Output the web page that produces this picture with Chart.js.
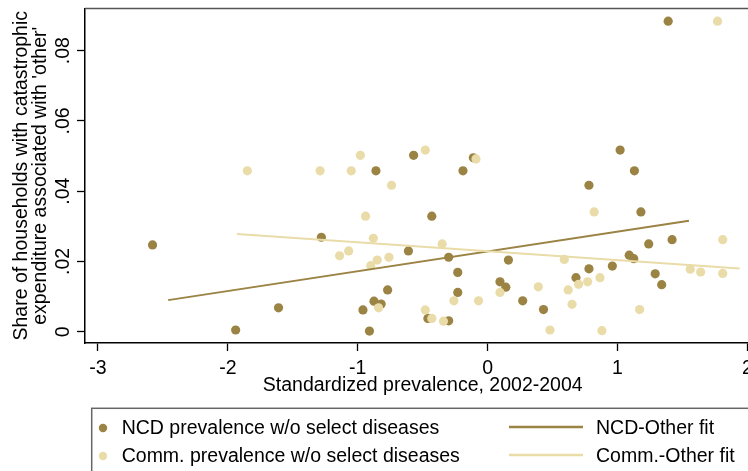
<!DOCTYPE html>
<html>
<head>
<meta charset="utf-8">
<script src="https://cdn.jsdelivr.net/npm/chart.js@4/dist/chart.umd.min.js"></script>
<style>
  html, body { margin: 0; padding: 0; overflow: hidden; background: #fff; }
  canvas { display: block; }
</style>
</head>
<body>
<canvas id="c" width="770" height="471"></canvas>
<script>
// NCD prevalence (standardized) vs. share with catastrophic 'other' expenditure
const ncdX = [-2.58, -1.94, -1.61, -1.28, -0.96, -0.91, -0.875, -0.82, -0.86, -0.77,
              -0.61, -0.57, -0.46, -0.43, -0.30, -0.30, -0.23, -0.23, -0.19, -0.11,
               0.095, 0.14, 0.16, 0.27, 0.43, 0.68, 0.78, 0.78, 0.96, 1.02,
               1.09, 1.125, 1.13, 1.18, 1.24, 1.29, 1.34, 1.39, 1.42];
const ncdY = [0.0247, 0.0005, 0.0068, 0.0269, 0.0062, 0.0002, 0.0087, 0.0079, 0.0458, 0.0119,
              0.0230, 0.0502, 0.0038, 0.0329, 0.0212, 0.0031, 0.0169, 0.0112, 0.0458, 0.0495,
              0.0142, 0.0127, 0.0204, 0.0088, 0.0063, 0.0154, 0.0417, 0.0179, 0.0187, 0.0517,
              0.0218, 0.0208, 0.0458, 0.0341, 0.0250, 0.0165, 0.0134, 0.0884, 0.0262];

// Communicable prevalence (standardized) vs. the same outcome
const commX = [-1.85, -1.29, -1.14, -1.07, -1.05, -0.98, -0.94, -0.90, -0.88, -0.85,
               -0.84, -0.76, -0.74, -0.48, -0.48, -0.43, -0.35, -0.34, -0.26, -0.09,
               -0.07, 0.095, 0.39, 0.48, 0.59, 0.62, 0.65, 0.70, 0.77, 0.82,
                0.865, 0.88, 1.17, 1.56, 1.64, 1.77, 1.81, 1.81];
const commY = [0.0458, 0.0458, 0.0216, 0.0230, 0.0458, 0.0502, 0.0329, 0.0188, 0.0266, 0.0204,
               0.0068, 0.0212, 0.0417, 0.0517, 0.0062, 0.0038, 0.0250, 0.0030, 0.0088, 0.0492,
               0.0088, 0.0112, 0.0128, 0.0005, 0.0206, 0.0119, 0.0078, 0.0135, 0.0142, 0.0341,
               0.0154, 0.0003, 0.0063, 0.0178, 0.0170, 0.0884, 0.0262, 0.0166];

// Linear fit end points
const ncdFitX = [-2.46, 1.55];
const ncdFitY = [0.0090, 0.0316];
const commFitX = [-1.93, 1.94];
const commFitY = [0.0278, 0.0180];

// Axis ticks
const xTicks = [-3, -2, -1, 0, 1, 2];
const xTickLabels = ['-3', '-2', '-1', '0', '1', '2'];
const yTicks = [0, 0.02, 0.04, 0.06, 0.08];
const yTickLabels = ['0', '.02', '.04', '.06', '.08'];

const seriesLabels = ['NCD prevalence w/o select diseases', 'Comm. prevalence w/o select diseases',
                      'NCD-Other fit', 'Comm.-Other fit'];

const NCD_COLOR = 'rgb(155,131,68)';
const COMM_COLOR = 'rgb(233,220,168)';
const FONT = 'Liberation Sans, Arial, sans-serif';
const FS = 19.5;

const pts = (xs, ys) => xs.map((x, i) => ({ x, y: ys[i] }));

// Rotated y tick labels, top frame line and the two-column legend box
const decorations = {
  id: 'decorations',
  afterDraw(chart) {
    const { ctx, chartArea, scales } = chart;
    ctx.save();
    // frame top edge
    ctx.strokeStyle = '#555';
    ctx.lineWidth = 1.5;
    ctx.beginPath();
    ctx.moveTo(chartArea.left, chartArea.top);
    ctx.lineTo(chartArea.right, chartArea.top);
    ctx.lineTo(chartArea.right, chartArea.bottom);
    ctx.stroke();

    // y tick labels, reading bottom to top
    ctx.fillStyle = '#000';
    ctx.font = FS + 'px ' + FONT;
    ctx.textAlign = 'center';
    ctx.textBaseline = 'alphabetic';
    yTicks.forEach((v, i) => {
      const py = scales.y.getPixelForValue(v);
      ctx.save();
      ctx.translate(68.5, py);
      ctx.rotate(-Math.PI / 2);
      ctx.fillText(yTickLabels[i], 0, 0);
      ctx.restore();
    });

    // legend
    const ds = chart.data.datasets;
    const byLabel = l => ds.find(d => d.label === l);
    ctx.strokeStyle = '#666';
    ctx.lineWidth = 1.5;
    ctx.strokeRect(91.7, 408.3, 700, 100);
    ctx.textAlign = 'left';
    ctx.textBaseline = 'middle';
    const rows = [428, 456];
    [0, 1].forEach(r => {
      const d = byLabel(seriesLabels[r]);
      ctx.fillStyle = d.backgroundColor;
      ctx.beginPath();
      ctx.arc(103, rows[r], 4.2, 0, Math.PI * 2);
      ctx.fill();
      ctx.fillStyle = '#000';
      ctx.fillText(d.label, 121.7, rows[r] + 1);
    });
    [2, 3].forEach((k, r) => {
      const d = byLabel(seriesLabels[k]);
      ctx.strokeStyle = d.borderColor;
      ctx.lineWidth = 2.5;
      ctx.beginPath();
      ctx.moveTo(509, rows[r] - 1);
      ctx.lineTo(583, rows[r] - 1);
      ctx.stroke();
      ctx.fillStyle = '#000';
      ctx.fillText(d.label, 596, rows[r] + 1);
    });
    ctx.restore();
  }
};

new Chart(document.getElementById('c'), {
  type: 'scatter',
  data: {
    datasets: [
      { type: 'line', label: seriesLabels[3], data: pts(commFitX, commFitY), borderColor: COMM_COLOR,
        backgroundColor: COMM_COLOR, borderWidth: 2, pointRadius: 0, fill: false, order: 0 },
      { type: 'line', label: seriesLabels[2], data: pts(ncdFitX, ncdFitY), borderColor: NCD_COLOR,
        backgroundColor: NCD_COLOR, borderWidth: 2, pointRadius: 0, fill: false, order: 1 },
      { label: seriesLabels[1], data: pts(commX, commY), backgroundColor: COMM_COLOR,
        borderColor: COMM_COLOR, pointRadius: 4.6, borderWidth: 0, order: 2 },
      { label: seriesLabels[0], data: pts(ncdX, ncdY), backgroundColor: NCD_COLOR,
        borderColor: NCD_COLOR, pointRadius: 4.6, borderWidth: 0, order: 3 }
    ]
  },
  options: {
    responsive: false,
    animation: false,
    events: [],
    layout: { padding: { left: 0, top: 8.5, right: 9.6, bottom: 71 } },
    plugins: { legend: { display: false }, tooltip: { enabled: false } },
    scales: {
      x: {
        type: 'linear',
        min: -3.1,
        max: 2.1,
        afterBuildTicks: s => { s.ticks = xTicks.map(v => ({ value: v })); },
        afterFit: s => { s.height = 57; },
        ticks: {
          color: '#000',
          font: { family: FONT, size: FS },
          padding: 6,
          maxRotation: 0,
          callback: v => xTickLabels[xTicks.indexOf(v)]
        },
        grid: { drawOnChartArea: false, drawTicks: true, tickLength: 8, tickColor: '#000', tickWidth: 1.3 },
        border: { color: '#000', width: 1.5 },
        title: {
          display: true,
          text: 'Standardized prevalence, 2002-2004',
          color: '#000',
          font: { family: FONT, size: FS, lineHeight: 0.95 },
          padding: { top: 0, bottom: 4.75 }
        }
      },
      y: {
        type: 'linear',
        min: -0.0032,
        max: 0.092,
        afterBuildTicks: s => { s.ticks = yTicks.map(v => ({ value: v })); },
        afterFit: s => { s.width = 85; },
        ticks: { display: false },
        grid: { drawOnChartArea: false, drawTicks: true, tickLength: 8, tickColor: '#000', tickWidth: 1.3 },
        border: { color: '#000', width: 1.5 },
        title: {
          display: true,
          text: ["Share of households with catastrophic", "expenditure associated with 'other'"],
          color: '#000',
          font: { family: FONT, size: FS, lineHeight: 0.95 },
          padding: { top: 12.75, bottom: 0 }
        }
      }
    }
  },
  plugins: [decorations]
});
</script>
</body>
</html>
